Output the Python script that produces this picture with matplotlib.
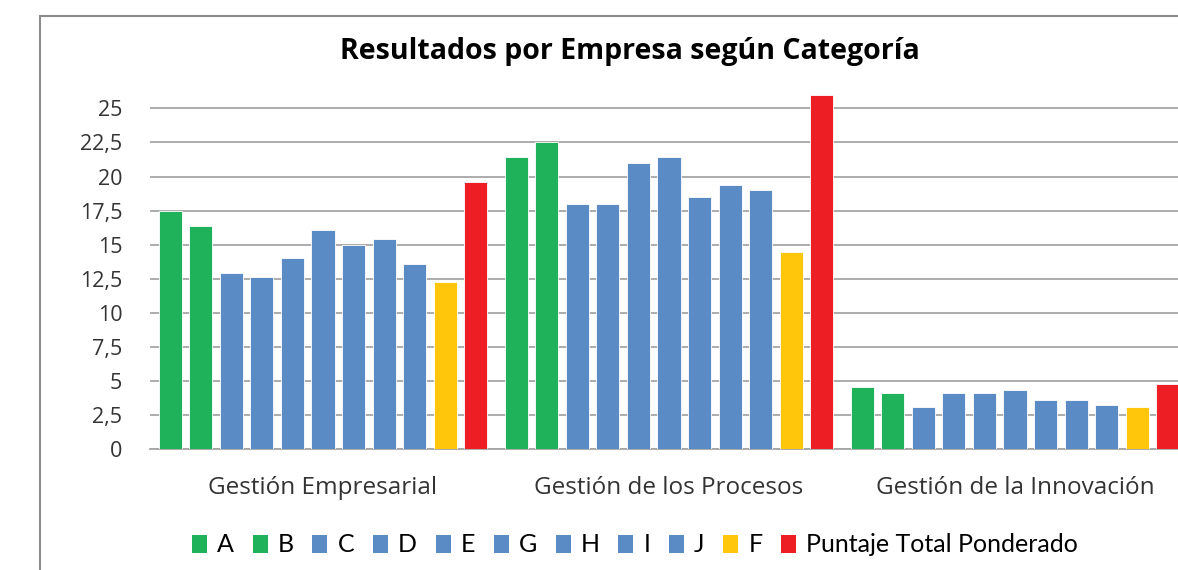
import matplotlib
matplotlib.use('Agg')
from matplotlib import pyplot as plt
from matplotlib.patches import Patch, Rectangle
import numpy as np


categories = ['Gestión Empresarial', 'Gestión de los Procesos', 'Gestión de la Innovación']
series = ['A', 'B', 'C', 'D', 'E', 'G', 'H', 'I', 'J', 'F', 'Puntaje Total Ponderado']
values = {
    'A': [17.5, 21.4, 4.6],
    'B': [16.4, 22.5, 4.15],
    'C': [12.9, 18.0, 3.1],
    'D': [12.6, 18.0, 4.15],
    'E': [14.0, 21.0, 4.15],
    'G': [16.1, 21.4, 4.35],
    'H': [15.0, 18.5, 3.6],
    'I': [15.4, 19.4, 3.6],
    'J': [13.6, 19.0, 3.25],
    'F': [12.3, 14.5, 3.1],
    'Puntaje Total Ponderado': [19.6, 26.0, 4.8],
}
yticks = [0, 2.5, 5, 7.5, 10, 12.5, 15, 17.5, 20, 22.5, 25]
ytick_labels = ['0', '2,5', '5', '7,5', '10', '12,5', '15', '17,5', '20', '22,5', '25']

green = '#1fb25a'
blue = '#5b8bc4'
yellow = '#ffc60b'
red = '#ed1f24'
colors = [green, green, blue, blue, blue, blue, blue, blue, blue, yellow, red]

plt.rcParams['font.family'] = ['Open Sans', 'DejaVu Sans']

fig = plt.figure(figsize=(11.78, 5.70), dpi=100)
W, H = 1178, 570

# chart border (cut off on the right and bottom like the source)
fig.patches.append(Rectangle((40 / W, -0.1), 1.2, 1 - 16 / H + 0.1,
                             transform=fig.transFigure, fill=False,
                             edgecolor='#8c8c8c', linewidth=1.5))

y0_px = 449.3
px_per_unit = 13.64
ytop = 26.5
ax = fig.add_axes([150 / W, 1 - y0_px / H, 1038 / W, ytop * px_per_unit / H])

x = np.arange(len(categories))
pitch = 0.0882
width = 0.0665
for i, name in enumerate(series):
    offs = (i - (len(series) - 1) / 2) * pitch
    ax.bar(x + offs, values[name], width=width, color=colors[i],
           edgecolor='white', linewidth=0.6, zorder=3, label=name)

ax.set_xlim(-0.5, len(categories) - 0.5)
ax.set_ylim(0, ytop)
ax.set_yticks(yticks)
ax.set_yticklabels(ytick_labels, fontsize=15.5, color='#333333')
ax.set_xticks(x)
ax.set_xticklabels(categories, fontsize=17.5, color='#333333')
ax.tick_params(axis='y', length=0, pad=20)
ax.tick_params(axis='x', length=0, pad=19)
ax.grid(axis='y', color='#a6a6a6', linewidth=1.3, zorder=0)
for s in ['top', 'right', 'left']:
    ax.spines[s].set_visible(False)
ax.spines['bottom'].set_color('#a6a6a6')
ax.spines['bottom'].set_linewidth(1.3)

fig.text(630 / W, 1 - 52 / H, 'Resultados por Empresa según Categoría',
         ha='center', va='center', fontsize=20.5, fontweight='bold')

handles = [Patch(facecolor=c, edgecolor='none') for c in colors]
fig.legend(handles, series, loc='center', bbox_to_anchor=(635 / W, 1 - 545 / H),
           ncol=len(series), frameon=False, handlelength=0.6,
           handleheight=0.75, handletextpad=0.4, columnspacing=0.75,
           prop={'family': ['Lato', 'DejaVu Sans'], 'size': 18})

fig.savefig('out.png', dpi=100, facecolor='white')
